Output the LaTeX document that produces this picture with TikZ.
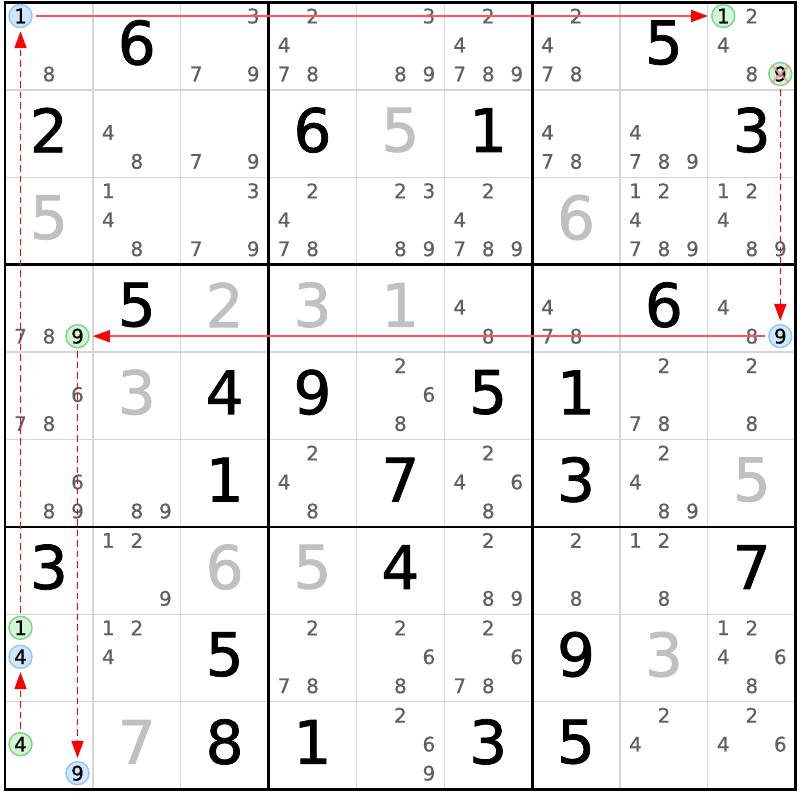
\documentclass[tikz,border=0pt]{standalone}
\usepackage{fontspec}
\setmainfont{DejaVu Sans}
\newfontfamily\bigdigitfont[FakeBold=1.2]{DejaVu Sans}
\newfontfamily\canddigitfont[FakeBold=0.6]{DejaVu Sans}
\usetikzlibrary{arrows.meta}
\definecolor{candgrey}{RGB}{96,96,96}
\definecolor{solvedgrey}{RGB}{192,192,192}
\definecolor{thingrid}{RGB}{214,214,214}
\definecolor{bluefill}{RGB}{208,230,252}
\definecolor{blueline}{RGB}{150,200,245}
\definecolor{greenfill}{RGB}{212,244,214}
\definecolor{greenline}{RGB}{125,215,135}
\definecolor{solidred}{RGB}{255,85,85}
\definecolor{xpink}{RGB}{245,150,150}

\newcommand\GX{5}
\newcommand\GY{2.5}
\newcommand\CWd{87.85}
\newcommand\CHt{87.4}

% candidates of cell (r,c)
\newcommand\SdkCands[3]{%
  \foreach \k in {#3}{%
    \pgfmathsetmacro\cx{\GX+(#2-1)*\CWd+15.5+mod(\k-1,3)*28.5}%
    \pgfmathsetmacro\cy{\GY+(#1-1)*\CHt+13.5+floor((\k-1)/3)*29}%
    \node[cand] (c-#1-#2-\k) at (\cx,\cy) {\k};
  }}
% highlighted candidate
\newcommand\SdkCirc[4]{%
  \pgfmathsetmacro\cx{\GX+(#2-1)*\CWd+15.5+mod(#3-1,3)*28.5}%
  \pgfmathsetmacro\cy{\GY+(#1-1)*\CHt+13.5+floor((#3-1)/3)*29}%
  \node[#4] (m#1#2#3) at (\cx,\cy) {#3};}
% given / solved digit
\newcommand\SdkDigit[4]{%
  \pgfmathsetmacro\cx{\GX+(#2-0.5)*\CWd}%
  \pgfmathsetmacro\cy{\GY+(#1-0.5)*\CHt-3.5}%
  \node[#4] (d-#1-#2) at (\cx,\cy) {#3};}

\tikzset{
  cand/.style={font=\canddigitfont\fontsize{20}{20}\selectfont, text=candgrey, inner sep=0pt},
  givendig/.style={font=\bigdigitfont\fontsize{60}{60}\selectfont, text=black, inner sep=0pt},
  solveddig/.style={font=\bigdigitfont\fontsize{60}{60}\selectfont, text=solvedgrey, inner sep=0pt},
  markbase/.style={circle, minimum size=23pt, inner sep=0pt, line width=1.5pt,
    font=\canddigitfont\fontsize{20}{20}\selectfont, text=black},
  bluec/.style={markbase, fill=bluefill, draw=blueline},
  greenc/.style={markbase, fill=greenfill, draw=greenline},
  thinline/.style={draw=thingrid, line width=1.3pt},
  thickline/.style={draw=black, line width=2.8pt},
  solidlink/.style={draw=solidred, line width=1.6pt, shorten <=3pt, shorten >=3pt,
    -{Triangle[length=17pt,width=12pt,color=red]}},
  dashlink/.style={draw=red, line width=1.6pt, dash pattern=on 6.5pt off 4pt,
    shorten <=3pt, shorten >=3pt, -{Triangle[length=17pt,width=12pt,color=red]}},
  xmark/.style={draw=xpink, line width=2.2pt, opacity=0.8}
}

\begin{document}
\begin{tikzpicture}[x=1pt,y=-1pt]
\useasboundingbox (0,0) rectangle (800,800);
\fill[white] (0,0) rectangle (800,800);

% thin grid
\foreach \i in {1,2,4,5,7,8}{
  \pgfmathsetmacro\lx{\GX+\i*\CWd}
  \pgfmathsetmacro\ly{\GY+\i*\CHt}
  \draw[thinline] (\lx,\GY) -- (\lx,{\GY+9*\CHt});
  \draw[thinline] (\GX,\ly) -- ({\GX+9*\CWd},\ly);
}
% thick grid
\foreach \i in {0,3,6,9}{
  \pgfmathsetmacro\lx{\GX+\i*\CWd}
  \pgfmathsetmacro\ly{\GY+\i*\CHt}
  \draw[thickline] (\lx,{\GY-1.4}) -- (\lx,{\GY+9*\CHt+1.4});
  \draw[thickline] ({\GX-1.4},\ly) -- ({\GX+9*\CWd+1.4},\ly);
}

% given digits
\SdkDigit{1}{2}{6}{givendig} \SdkDigit{1}{8}{5}{givendig}
\SdkDigit{2}{1}{2}{givendig} \SdkDigit{2}{4}{6}{givendig} \SdkDigit{2}{6}{1}{givendig} \SdkDigit{2}{9}{3}{givendig}
\SdkDigit{4}{2}{5}{givendig} \SdkDigit{4}{8}{6}{givendig}
\SdkDigit{5}{3}{4}{givendig} \SdkDigit{5}{4}{9}{givendig} \SdkDigit{5}{6}{5}{givendig} \SdkDigit{5}{7}{1}{givendig}
\SdkDigit{6}{3}{1}{givendig} \SdkDigit{6}{5}{7}{givendig} \SdkDigit{6}{7}{3}{givendig}
\SdkDigit{7}{1}{3}{givendig} \SdkDigit{7}{5}{4}{givendig} \SdkDigit{7}{9}{7}{givendig}
\SdkDigit{8}{3}{5}{givendig} \SdkDigit{8}{7}{9}{givendig}
\SdkDigit{9}{3}{8}{givendig} \SdkDigit{9}{4}{1}{givendig} \SdkDigit{9}{6}{3}{givendig} \SdkDigit{9}{7}{5}{givendig}
% solved digits
\SdkDigit{2}{5}{5}{solveddig} \SdkDigit{3}{1}{5}{solveddig} \SdkDigit{3}{7}{6}{solveddig}
\SdkDigit{4}{3}{2}{solveddig} \SdkDigit{4}{4}{3}{solveddig} \SdkDigit{4}{5}{1}{solveddig}
\SdkDigit{5}{2}{3}{solveddig} \SdkDigit{6}{9}{5}{solveddig}
\SdkDigit{7}{3}{6}{solveddig} \SdkDigit{7}{4}{5}{solveddig}
\SdkDigit{8}{8}{3}{solveddig} \SdkDigit{9}{2}{7}{solveddig}

% candidates
\SdkCands{1}{1}{8} \SdkCands{1}{3}{3,7,9} \SdkCands{1}{4}{2,4,7,8} \SdkCands{1}{5}{3,8,9}
\SdkCands{1}{6}{2,4,7,8,9} \SdkCands{1}{7}{2,4,7,8} \SdkCands{1}{9}{2,4,8}
\SdkCands{2}{2}{4,8} \SdkCands{2}{3}{7,9} \SdkCands{2}{7}{4,7,8} \SdkCands{2}{8}{4,7,8,9}
\SdkCands{3}{2}{1,4,8} \SdkCands{3}{3}{3,7,9} \SdkCands{3}{4}{2,4,7,8} \SdkCands{3}{5}{2,3,8,9}
\SdkCands{3}{6}{2,4,7,8,9} \SdkCands{3}{8}{1,2,4,7,8,9} \SdkCands{3}{9}{1,2,4,8,9}
\SdkCands{4}{1}{7,8} \SdkCands{4}{6}{4,8} \SdkCands{4}{7}{4,7,8} \SdkCands{4}{9}{4,8}
\SdkCands{5}{1}{6,7,8} \SdkCands{5}{5}{2,6,8} \SdkCands{5}{8}{2,7,8} \SdkCands{5}{9}{2,8}
\SdkCands{6}{1}{6,8,9} \SdkCands{6}{2}{8,9} \SdkCands{6}{4}{2,4,8} \SdkCands{6}{6}{2,4,6,8} \SdkCands{6}{8}{2,4,8,9}
\SdkCands{7}{2}{1,2,9} \SdkCands{7}{6}{2,8,9} \SdkCands{7}{7}{2,8} \SdkCands{7}{8}{1,2,8}
\SdkCands{8}{2}{1,2,4} \SdkCands{8}{4}{2,7,8} \SdkCands{8}{5}{2,6,8} \SdkCands{8}{6}{2,6,7,8} \SdkCands{8}{9}{1,2,4,6,8}
\SdkCands{9}{5}{2,6,9} \SdkCands{9}{8}{2,4} \SdkCands{9}{9}{2,4,6}

% highlighted candidates
\SdkCirc{1}{1}{1}{bluec}
\SdkCirc{1}{9}{1}{greenc}
\SdkCirc{1}{9}{9}{greenc}
\SdkCirc{4}{9}{9}{bluec}
\SdkCirc{4}{1}{9}{greenc}
\SdkCirc{9}{1}{9}{bluec}
\SdkCirc{9}{1}{4}{greenc}
\SdkCirc{8}{1}{4}{bluec}
\SdkCirc{8}{1}{1}{greenc}

% links
\draw[dashlink] (m914) -- (m814);
\draw[dashlink] (m811) -- (m111);
\draw[solidlink] (m111) -- (m191);
\draw[dashlink] (m199) -- (m499);
\draw[solidlink] (m499) -- (m419);
\draw[dashlink] (m419) -- (m919);

% elimination mark
\draw[xmark] (m199.135) -- (m199.-45);
\draw[xmark] (m199.45) -- (m199.-135);
\end{tikzpicture}
\end{document}
